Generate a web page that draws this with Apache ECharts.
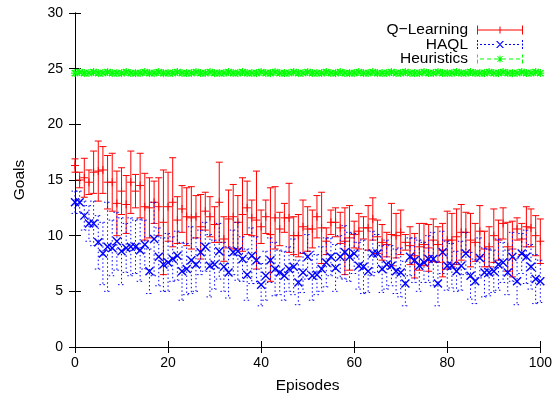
<!DOCTYPE html>
<html>
<head>
<meta charset="utf-8">
<script src="https://cdn.jsdelivr.net/npm/echarts@6/dist/echarts.min.js"></script>
<style>
  html, body { margin: 0; padding: 0; background: #fff; }
  #chart { width: 555px; height: 399px; }
</style>
</head>
<body>
<div id="chart"></div>
<script>
// episodes 0..100
const episodes = [
  0, 1, 2, 3, 4, 5, 6, 7, 8, 9, 10, 11, 12, 13, 14, 15, 16, 17, 18, 19, 20,
  21, 22, 23, 24, 25, 26, 27, 28, 29, 30, 31, 32, 33, 34, 35, 36, 37, 38, 39, 40,
  41, 42, 43, 44, 45, 46, 47, 48, 49, 50, 51, 52, 53, 54, 55, 56, 57, 58, 59, 60,
  61, 62, 63, 64, 65, 66, 67, 68, 69, 70, 71, 72, 73, 74, 75, 76, 77, 78, 79, 80,
  81, 82, 83, 84, 85, 86, 87, 88, 89, 90, 91, 92, 93, 94, 95, 96, 97, 98, 99, 100
];

const qlMean = [
  16.3, 15.0, 15.2, 14.8, 15.7, 15.8, 15.9, 14.8, 14.8, 12.9, 14.0, 12.8, 14.8, 14.0, 14.5, 12.6, 12.5, 13.0, 12.6, 11.2, 12.6,
  13.0, 11.4, 12.4, 11.7, 11.6, 11.7, 10.8, 12.2, 11.7, 11.0, 13.0, 9.7, 11.5, 11.7, 11.2, 11.9, 12.5, 11.6, 11.4, 10.8,
  11.7, 10.1, 11.6, 10.6, 11.6, 11.6, 10.0, 10.0, 10.8, 10.6, 10.6, 11.7, 10.7, 9.5, 11.2, 11.2, 10.7, 9.5, 9.8, 10.1,
  10.4, 10.7, 10.7, 11.5, 9.9, 9.4, 9.2, 10.1, 10.0, 10.3, 9.4, 9.1, 8.2, 9.0, 9.2, 8.9, 9.6, 9.2, 8.7, 9.6,
  9.6, 9.9, 10.3, 10.3, 9.6, 9.4, 10.4, 8.8, 9.0, 10.0, 9.6, 11.1, 9.0, 8.8, 10.6, 9.7, 10.8, 10.7, 10.0, 9.5
];
const qlErr = [
  0.6, 0.7, 1.75, 1.1, 1.9, 2.7, 2.1, 2.4, 2.6, 2.9, 2.1, 2.6, 2.8, 1.5, 2.9, 3.0, 2.7, 1.9, 2.6, 4.7, 3.1,
  4.0, 2.1, 2.1, 2.6, 2.8, 1.9, 2.9, 1.7, 1.8, 1.6, 3.6, 2.0, 2.6, 2.9, 2.4, 3.3, 2.4, 1.6, 4.4, 1.5,
  1.5, 4.2, 2.8, 1.5, 1.3, 3.1, 1.7, 1.9, 2.4, 2.0, 1.7, 1.9, 3.2, 1.2, 1.1, 1.3, 1.4, 3.0, 2.9, 1.2,
  1.6, 1.0, 2.0, 1.9, 1.5, 1.6, 1.1, 2.8, 2.0, 2.0, 0.7, 1.7, 2.0, 2.1, 1.9, 2.1, 1.9, 1.6, 2.4, 2.6,
  2.4, 2.5, 2.5, 1.8, 2.4, 1.7, 2.3, 1.6, 1.8, 2.4, 1.8, 1.4, 2.2, 2.5, 1.0, 1.4, 1.8, 1.7, 1.8, 2.0
];

const haqlMean = [
  13.0, 13.0, 11.8, 11.1, 11.1, 9.4, 8.4, 9.0, 8.9, 9.5, 8.6, 8.9, 9.0, 9.0, 8.7, 9.2, 6.8, 9.7, 8.1, 7.4, 7.6,
  7.9, 8.2, 6.8, 7.0, 7.8, 7.4, 8.5, 9.0, 7.3, 7.4, 8.6, 7.2, 6.7, 8.5, 8.6, 7.9, 6.5, 8.2, 7.8, 5.6,
  6.4, 7.8, 7.0, 6.7, 6.4, 7.0, 7.2, 5.8, 6.7, 8.1, 6.4, 6.5, 7.0, 7.6, 8.1, 7.1, 8.1, 8.5, 8.1, 8.4,
  7.3, 7.2, 6.8, 8.4, 8.4, 7.0, 7.4, 7.3, 6.8, 6.7, 5.7, 8.1, 7.8, 7.3, 7.6, 7.9, 7.9, 5.7, 8.5, 7.3,
  7.3, 6.8, 7.3, 8.4, 6.4, 5.9, 8.0, 6.7, 6.7, 6.8, 7.4, 7.6, 6.7, 8.1, 5.9, 8.4, 8.1, 7.2, 6.1, 5.9
];
const haqlErr = [
  1.0, 1.0, 1.3, 1.6, 2.0, 2.4, 2.8, 4.0, 2.5, 2.6, 3.0, 2.2, 2.6, 2.4, 2.8, 2.2, 2.0, 3.3, 2.6, 2.4, 2.6,
  2.0, 2.2, 2.6, 2.3, 3.0, 2.4, 2.0, 2.2, 2.8, 2.2, 2.5, 2.2, 2.3, 2.0, 2.6, 2.0, 2.3, 2.5, 2.1, 1.9,
  2.2, 2.0, 2.4, 2.0, 2.2, 2.0, 2.5, 2.0, 1.8, 2.0, 2.2, 1.8, 2.0, 2.2, 1.7, 2.1, 1.9, 2.4, 2.2, 1.8,
  2.1, 2.4, 1.9, 2.0, 1.7, 2.1, 2.2, 1.8, 2.0, 2.2, 2.0, 1.7, 2.0, 2.3, 1.8, 2.1, 2.4, 2.0, 1.9, 2.2,
  2.0, 1.8, 2.2, 1.9, 2.1, 2.0, 1.8, 2.2, 2.1, 1.9, 2.3, 1.8, 2.0, 2.2, 2.1, 1.8, 2.4, 2.0, 2.2, 1.9
];

const heurMean = [
  24.6, 24.7, 24.6, 24.6, 24.7, 24.6, 24.6, 24.7, 24.6, 24.6, 24.6, 24.7, 24.6, 24.6, 24.6, 24.7, 24.6, 24.6, 24.7, 24.6, 24.6,
  24.6, 24.7, 24.6, 24.6, 24.6, 24.7, 24.6, 24.6, 24.7, 24.6, 24.6, 24.6, 24.7, 24.6, 24.6, 24.7, 24.6, 24.6, 24.6, 24.7,
  24.6, 24.6, 24.7, 24.6, 24.6, 24.6, 24.7, 24.6, 24.6, 24.7, 24.6, 24.6, 24.6, 24.7, 24.6, 24.6, 24.7, 24.6, 24.6, 24.6,
  24.7, 24.6, 24.6, 24.7, 24.6, 24.6, 24.6, 24.7, 24.6, 24.6, 24.7, 24.6, 24.6, 24.6, 24.7, 24.6, 24.6, 24.7, 24.6, 24.6,
  24.6, 24.7, 24.6, 24.6, 24.7, 24.6, 24.6, 24.6, 24.7, 24.6, 24.6, 24.7, 24.6, 24.6, 24.6, 24.7, 24.6, 24.6, 24.7, 24.6
];
const heurErr = [
  0.2, 0.2, 0.2, 0.2, 0.2, 0.2, 0.2, 0.2, 0.2, 0.2, 0.2, 0.2, 0.2, 0.2, 0.2, 0.2, 0.2, 0.2, 0.2, 0.2, 0.2,
  0.2, 0.2, 0.2, 0.2, 0.2, 0.2, 0.2, 0.2, 0.2, 0.2, 0.2, 0.2, 0.2, 0.2, 0.2, 0.2, 0.2, 0.2, 0.2, 0.2,
  0.2, 0.2, 0.2, 0.2, 0.2, 0.2, 0.2, 0.2, 0.2, 0.2, 0.2, 0.2, 0.2, 0.2, 0.2, 0.2, 0.2, 0.2, 0.2, 0.2,
  0.2, 0.2, 0.2, 0.2, 0.2, 0.2, 0.2, 0.2, 0.2, 0.2, 0.2, 0.2, 0.2, 0.2, 0.2, 0.2, 0.2, 0.2, 0.2, 0.2,
  0.2, 0.2, 0.2, 0.2, 0.2, 0.2, 0.2, 0.2, 0.2, 0.2, 0.2, 0.2, 0.2, 0.2, 0.2, 0.2, 0.2, 0.2, 0.2, 0.2
];

const xTicks = [0, 20, 40, 60, 80, 100];
const yTicks = [0, 5, 10, 15, 20, 25, 30];

const FONT = "'Liberation Sans', Arial, sans-serif";

function rows(mean, err) {
  return episodes.map((x, i) => [x, mean[i], err[i]]);
}

// marker shapes drawn as short strokes around the point
function markerLines(kind, cx, cy, r) {
  const plus = [[cx - r, cy, cx + r, cy], [cx, cy - r, cx, cy + r]];
  const d = r * 0.8;
  const cross = [[cx - d, cy - d, cx + d, cy + d], [cx - d, cy + d, cx + d, cy - d]];
  if (kind === "plus") return plus;
  if (kind === "cross") return cross;
  return plus.concat(cross);
}

function errorBarRenderer(color, dash, marker, markerSize, markerWidth) {
  return function (params, api) {
    const x = api.value(0), m = api.value(1), e = api.value(2);
    const top = api.coord([x, m + e]);
    const bot = api.coord([x, m - e]);
    const mid = api.coord([x, m]);
    const cw = 3.5;
    const ls = { stroke: color, lineWidth: 1, lineDash: dash, fill: null };
    const children = [
      { type: "line", shape: { x1: top[0], y1: top[1], x2: bot[0], y2: bot[1] }, style: ls },
      { type: "line", shape: { x1: top[0] - cw, y1: top[1], x2: top[0] + cw, y2: top[1] }, style: ls },
      { type: "line", shape: { x1: bot[0] - cw, y1: bot[1], x2: bot[0] + cw, y2: bot[1] }, style: ls }
    ];
    markerLines(marker, mid[0], mid[1], markerSize).forEach(s => {
      children.push({
        type: "line",
        shape: { x1: s[0], y1: s[1], x2: s[2], y2: s[3] },
        style: { stroke: color, lineWidth: markerWidth, fill: null }
      });
    });
    return { type: "group", children };
  };
}

const tickText = { color: "#000", fontSize: 14, fontFamily: FONT };
const nameText = { color: "#000", fontSize: 15.5, fontFamily: FONT };
const tickStyle = { show: true, inside: true, length: 6, lineStyle: { color: "#000", width: 1 } };
const lineStyle = { show: true, lineStyle: { color: "#000", width: 1 } };

const option = {
  animation: false,
  backgroundColor: "#fff",
  textStyle: { fontFamily: FONT },
  grid: { left: 75, right: 14, top: 13, bottom: 51 },
  legend: {
    orient: "vertical",
    right: 27,
    top: 17,
    align: "right",
    itemWidth: 46,
    itemHeight: 9,
    itemGap: -1.5,
    textStyle: { color: "#000", fontSize: 15.5, fontFamily: FONT, lineHeight: 14, padding: [0, 4, 0, 0] },
    data: [
      {
        name: "Q\u2212Learning",
        icon: "path://M0,0h1v9h-1z M45,0h1v9h-1z M0,4h46v1h-46z M22.5,1h1v7h-1z"
      },
      {
        name: "HAQL",
        icon: "path://M0,0h1v2h-1z M0,3.5h1v2h-1z M0,7h1v2h-1z M45,0h1v2h-1z M45,3.5h1v2h-1z M45,7h1v2h-1z " +
          "M3,4h2v1h-2z M7,4h2v1h-2z M11,4h2v1h-2z M15,4h2v1h-2z M28,4h2v1h-2z M32,4h2v1h-2z M36,4h2v1h-2z M40,4h2v1h-2z " +
          "M19,1L20.5,1L27,8L25.5,8Z M25.5,1L27,1L20.5,8L19,8Z"
      },
      {
        name: "Heuristics",
        icon: "path://M0,0h1v3h-1z M0,5h1v4h-1z M45,0h1v3h-1z M45,5h1v4h-1z " +
          "M3,4h4v1h-4z M10,4h4v1h-4z M17,4h3v1h-3z M26,4h3v1h-3z M32,4h4v1h-4z M39,4h4v1h-4z " +
          "M22.5,1h1v7h-1z M19.5,4h7v1h-7z M20,1.5L21,1.5L26,7.5L25,7.5Z M25,1.5L26,1.5L21,7.5L20,7.5Z"
      }
    ]
  },
  xAxis: [
    {
      type: "value",
      min: 0,
      max: 100,
      interval: 20,
      name: "Episodes",
      nameLocation: "middle",
      nameGap: 31,
      nameTextStyle: nameText,
      axisLine: lineStyle,
      axisTick: tickStyle,
      axisLabel: Object.assign({ margin: 9, formatter: v => (xTicks.includes(v) ? String(v) : "") }, tickText),
      splitLine: { show: false }
    },
    {
      type: "value",
      position: "top",
      min: 0,
      max: 100,
      interval: 20,
      axisLine: lineStyle,
      axisTick: tickStyle,
      axisLabel: { show: false },
      splitLine: { show: false }
    }
  ],
  yAxis: [
    {
      type: "value",
      min: 0,
      max: 30,
      interval: 5,
      name: "Goals",
      nameLocation: "middle",
      nameGap: 47,
      nameTextStyle: nameText,
      axisLine: lineStyle,
      axisTick: tickStyle,
      axisLabel: Object.assign({ margin: 12, formatter: v => (yTicks.includes(v) ? String(v) : "") }, tickText),
      splitLine: { show: false }
    },
    {
      type: "value",
      position: "right",
      min: 0,
      max: 30,
      interval: 5,
      axisLine: lineStyle,
      axisTick: tickStyle,
      axisLabel: { show: false },
      splitLine: { show: false }
    }
  ],
  series: [
    {
      name: "Q\u2212Learning",
      type: "custom",
      xAxisIndex: 0,
      yAxisIndex: 0,
      itemStyle: { color: "#ff0000" },
      encode: { x: 0, y: 1 },
      renderItem: errorBarRenderer("#ff0000", null, "plus", 4, 1),
      data: rows(qlMean, qlErr),
      z: 2
    },
    {
      name: "HAQL",
      type: "custom",
      xAxisIndex: 0,
      yAxisIndex: 0,
      itemStyle: { color: "#0000ff" },
      encode: { x: 0, y: 1 },
      renderItem: errorBarRenderer("#0000ff", [1.5, 2.5], "cross", 5, 1.4),
      data: rows(haqlMean, haqlErr),
      z: 3
    },
    {
      name: "Heuristics",
      type: "custom",
      xAxisIndex: 0,
      yAxisIndex: 0,
      itemStyle: { color: "#00ff00" },
      encode: { x: 0, y: 1 },
      renderItem: errorBarRenderer("#00ff00", [3, 3], "star", 4, 1.2),
      data: rows(heurMean, heurErr),
      z: 4
    }
  ]
};

const chart = echarts.init(document.getElementById("chart"), null, { renderer: "canvas" });
chart.setOption(option);
</script>
</body>
</html>
